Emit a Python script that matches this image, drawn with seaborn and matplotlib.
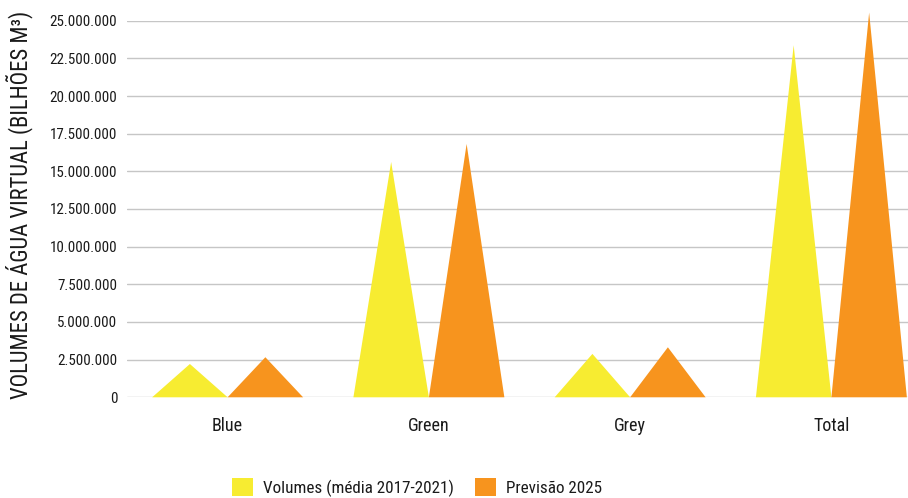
import matplotlib
matplotlib.use("Agg")
import matplotlib.pyplot as plt
from matplotlib import font_manager
from matplotlib.patches import Polygon, Patch
from matplotlib.ticker import FuncFormatter
import seaborn as sns
import pandas as pd

categorias = ["Blue", "Green", "Grey", "Total"]
volumes_media = [2210000, 15620000, 2880000, 23370000]
previsao_2025 = [2660000, 16820000, 3320000, 25540000]
series = ["Volumes (média 2017-2021)", "Previsão 2025"]
cores = ["#F7EC31", "#F7941E"]
y_ticks = list(range(0, 25000001, 2500000))

df = pd.DataFrame({
    "categoria": categorias * 2,
    "volume": volumes_media + previsao_2025,
    "serie": [series[0]] * len(categorias) + [series[1]] * len(categorias),
})

sns.set_theme(style="white")

# Prefer a condensed face when one is installed
instaladas = {f.name for f in font_manager.fontManager.ttflist}
condensadas = [n for n in ["Liberation Sans Narrow", "Roboto Condensed", "Open Sans Condensed",
                           "DejaVu Sans Condensed"] if n in instaladas]
familia = (condensadas[:1] or ["Liberation Sans"]) + ["DejaVu Sans"]
estreita = familia[0] in ("Liberation Sans Narrow", "Roboto Condensed", "Open Sans Condensed")
plt.rcParams["font.family"] = familia
k = 1.0 if estreita else 0.85

fig = plt.figure(figsize=(9.08, 4.98), dpi=100)
ax = fig.add_axes([127 / 908, (498 - 397.3) / 498, 781 / 908, (397.3 - 20.7) / 498])

sns.barplot(data=df, x="categoria", y="volume", hue="serie", palette=cores,
            width=0.75, saturation=1, errorbar=None, ax=ax, legend=False)

# Turn each bar into a triangle with the same base and height
for bar in list(ax.patches):
    x0, w, h = bar.get_x(), bar.get_width(), bar.get_height()
    tri = Polygon([(x0, 0), (x0 + w / 2, h), (x0 + w, 0)], closed=True,
                  facecolor=bar.get_facecolor(), edgecolor="none",
                  clip_on=False, zorder=3)
    ax.add_patch(tri)
    bar.set_visible(False)

ax.set_xlim(-0.5, 3.5 - 24 / 201)
ax.set_ylim(0, 25000000)
ax.set_yticks(y_ticks)
ax.yaxis.set_major_formatter(FuncFormatter(lambda v, p: f"{int(v):,}".replace(",", ".")))
ax.grid(axis="y", color="#c6c6c6", linewidth=1.0, zorder=0)
ax.set_axisbelow(True)
for s in ax.spines.values():
    s.set_visible(False)
ax.tick_params(axis="y", length=0, pad=7, labelsize=10.8 * k, labelcolor="#1a1a1a")
ax.tick_params(axis="x", length=0, pad=14, labelsize=13 * k, labelcolor="#1a1a1a")
ax.set_xlabel("")
ax.set_ylabel("")

fig.text(19 / 908, 1 - 205 / 498, "VOLUMES DE ÁGUA VIRTUAL (BILHÕES M³)",
         rotation=90, ha="center", va="center", fontsize=16.3 * k, color="#1a1a1a")

handles = [Patch(facecolor=c, edgecolor="none") for c in cores]
fig.legend(handles, series, loc="lower left", bbox_to_anchor=(232 / 908, 0.002),
           ncol=2, frameon=False, fontsize=12.3 * k, handlelength=1.25 / k, handleheight=1.25 / k,
           handletextpad=0.55, columnspacing=1.25, borderpad=0, borderaxespad=0,
           labelcolor="#1a1a1a")

fig.savefig("out.png", dpi=100)
